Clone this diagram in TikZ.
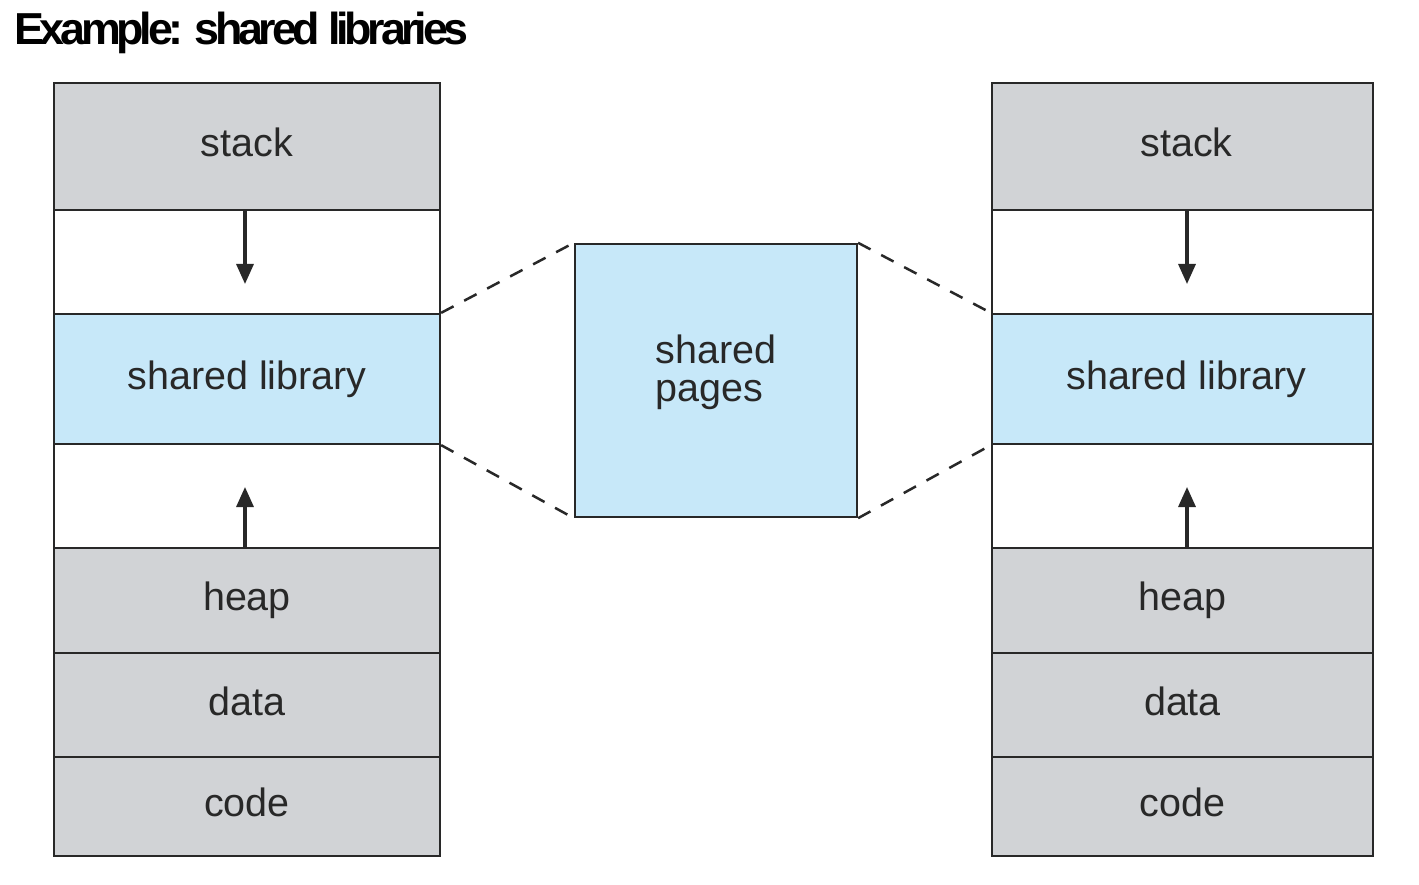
\documentclass[tikz,border=0pt]{standalone}
\usepackage{fontspec}
\setmainfont{Liberation Sans}
\newfontfamily\titlefont[LetterSpace=-9.5]{Liberation Sans Bold}
\usetikzlibrary{arrows.meta,calc}
\definecolor{seg}{RGB}{209,211,214}
\definecolor{shl}{RGB}{199,232,249}
\definecolor{ln}{RGB}{40,40,40}
\definecolor{tx}{RGB}{40,40,40}
\begin{document}
\begin{tikzpicture}[x=1pt,y=-1pt,
  cell/.style={draw=ln, line width=2.3pt, inner sep=0pt, text=tx,
    font=\fontsize{39.5}{40}\selectfont, text height=20pt, text depth=0pt},
  lcol/.style={cell, minimum width=386pt},
  rcol/.style={cell, minimum width=381pt},
  grey/.style={fill=seg},
  blue/.style={fill=shl},
  empty/.style={fill=white},
  arr/.style={draw=ln, line width=3.2pt, -{Triangle[width=17pt,length=20pt]}},
  dsh/.style={draw=ln, line width=2.5pt, dash pattern=on 14pt off 12pt}]
\useasboundingbox (0,0) rectangle (1419,885);
\fill[white] (0,0) rectangle (1419,885);

% title
\node[anchor=base west, inner sep=0pt, font=\fontsize{44.8}{50}\titlefont] (title) at (14,45)
  {Example: shared libraries};

% left column
\node[lcol, grey,  minimum height=127pt] (lstack) at (247,146.5) {stack};
\node[lcol, empty, minimum height=104pt] (lgap1)  at (247,262)   {};
\node[lcol, blue,  minimum height=130pt] (llib)   at (247,379)   {shared library};
\node[lcol, empty, minimum height=104pt] (lgap2)  at (247,496)   {};
\node[lcol, grey,  minimum height=105pt] (lheap)  at (247,600.5) {heap};
\node[lcol, grey,  minimum height=104pt] (ldata)  at (247,705)   {data};
\node[lcol, grey,  minimum height=99pt]  (lcode)  at (247,806.5) {code};

% right column
\node[rcol, grey,  minimum height=127pt] (rstack) at (1182.5,146.5) {\hspace*{8pt}stack};
\node[rcol, empty, minimum height=104pt] (rgap1)  at (1182.5,262)   {};
\node[rcol, blue,  minimum height=130pt] (rlib)   at (1182.5,379)   {\hspace*{8pt}shared library};
\node[rcol, empty, minimum height=104pt] (rgap2)  at (1182.5,496)   {};
\node[rcol, grey,  minimum height=105pt] (rheap)  at (1182.5,600.5) {heap};
\node[rcol, grey,  minimum height=104pt] (rdata)  at (1182.5,705)   {data};
\node[rcol, grey,  minimum height=99pt]  (rcode)  at (1182.5,806.5) {code};

% shared pages
\node[draw=ln, line width=2.3pt, fill=shl, minimum width=282pt, minimum height=273pt, inner sep=0pt] (sp) at (716,380.5) {};
\node[align=left, text=tx, inner sep=0pt, font=\fontsize{39.5}{38}\selectfont] (sptext) at (716,372) {shared\\pages};

% arrows
\coordinate (lt1) at (245,284);
\coordinate (lt2) at (245,487);
\coordinate (rt1) at (1187,284);
\coordinate (rt2) at (1187,487);
\draw[arr] (lstack.south -| lt1) -- (lt1);
\draw[arr] (lheap.north -| lt2) -- (lt2);
\draw[arr] (rstack.south -| rt1) -- (rt1);
\draw[arr] (rheap.north -| rt2) -- (rt2);

% dashed connectors
\draw[dsh] (llib.north east) -- (sp.north west);
\draw[dsh] (llib.south east) -- (sp.south west);
\draw[dsh] (sp.north east) -- (rlib.north west);
\draw[dsh] (sp.south east) -- (rlib.south west);
\end{tikzpicture}
\end{document}
